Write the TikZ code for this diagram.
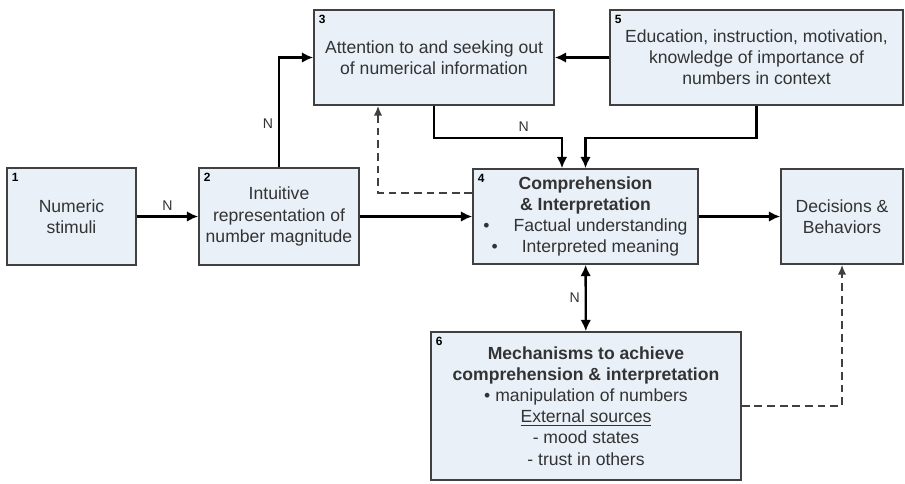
\documentclass[tikz,border=0pt]{standalone}
\usepackage{fontspec}
\setmainfont{Liberation Sans}
\usetikzlibrary{positioning, calc, arrows.meta}

\definecolor{boxfill}{HTML}{E9F0F8}
\definecolor{boxline}{HTML}{404040}
\definecolor{txt}{HTML}{333333}

\begin{document}
\begin{tikzpicture}[x=0.025cm, y=-0.025cm,
    box/.style={draw=boxline, fill=boxfill, line width=1.1pt, align=center, text=txt,
        font=\fontsize{12.5}{15}\selectfont, inner sep=2pt},
    num/.style={font=\fontsize{8.5}{9}\selectfont\bfseries, text=black, inner sep=1pt, anchor=north west},
    link/.style={-{Latex[length=8pt, width=7.5pt]}, line width=1.7pt},
    twoway/.style={{Latex[length=8pt, width=7.5pt]}-{Latex[length=8pt, width=7.5pt]}, line width=1.7pt},
    hint/.style={-{Latex[length=7pt, width=6pt]}, line width=1.2pt, dash pattern=on 5.5pt off 3.5pt, draw=boxline},
    lbl/.style={font=\fontsize{10}{11}\selectfont, text=txt}]

    \useasboundingbox (0,0) rectangle (905,483);

    \node (B1) at (71.5,216.5) [box, minimum width=3.225cm, minimum height=2.425cm] {Numeric\\stimuli};
    \node (B2) at (279,216.5) [box, minimum width=4cm, minimum height=2.425cm] {Intuitive\\representation of\\number magnitude};
    \node (B3) at (434,57.5) [box, minimum width=6cm, minimum height=2.375cm] {Attention to and seeking out\\of numerical information};
    \node (B5) at (756.5,57.5) [box, minimum width=7.325cm, minimum height=2.375cm] {Education, instruction, motivation,\\knowledge of importance of\\numbers in context};
    \node (B4) at (585.5,216.5) [box, minimum width=5.625cm, minimum height=2.375cm]
        {\textbf{Comprehension}\\\textbf{\& Interpretation}\\
         \hspace*{0.75cm}\llap{\textbullet\hspace{0.6cm}}Factual understanding\\
         \hspace*{0.75cm}\llap{\textbullet\hspace{0.6cm}}Interpreted meaning};
    \node (BD) at (842,216.5) [box, minimum width=3.05cm, minimum height=2.375cm] {Decisions \&\\Behaviors};
    \node (B6) at (586,406) [box, minimum width=7.75cm, minimum height=3.7cm]
        {\textbf{Mechanisms to achieve}\\\textbf{comprehension \& interpretation}\\
         \textbullet{} manipulation of numbers\\\underline{External sources}\\- mood states\\- trust in others};

    \foreach \b/\n in {B1/1, B2/2, B3/3, B4/4, B5/5, B6/6}
        \node (num\n) [num] at ($(\b.north west)+(4,4)$) {\n};

    \draw[link] (B1) -- node[lbl, above] (N12) {N} (B2);
    \draw[link] (B2) -- (B4);
    \draw[link] (B2.north) |- node[lbl, pos=0.2, left] (N23) {N} (B3.west);
    \draw[link] (B5) -- (B3);
    \draw[link] (B3.south) -- ++(0,32) -| node[lbl, pos=0.35, above] (N34) {N} ($(B4.north)+(-23.5,0)$);
    \draw[link] (B5.south) -- ++(0,32) -| (B4.north);
    \draw[hint] ($(B4.west)+(0,-23.5)$) -| ($(B3.south)+(-56,0)$);
    \draw[twoway] (B4) -- node[lbl, left] (N46) {N} (B6);
    \draw[hint] (B6.east) -| (BD.south);
    \draw[link] (B4) -- (BD);
\end{tikzpicture}
\end{document}
